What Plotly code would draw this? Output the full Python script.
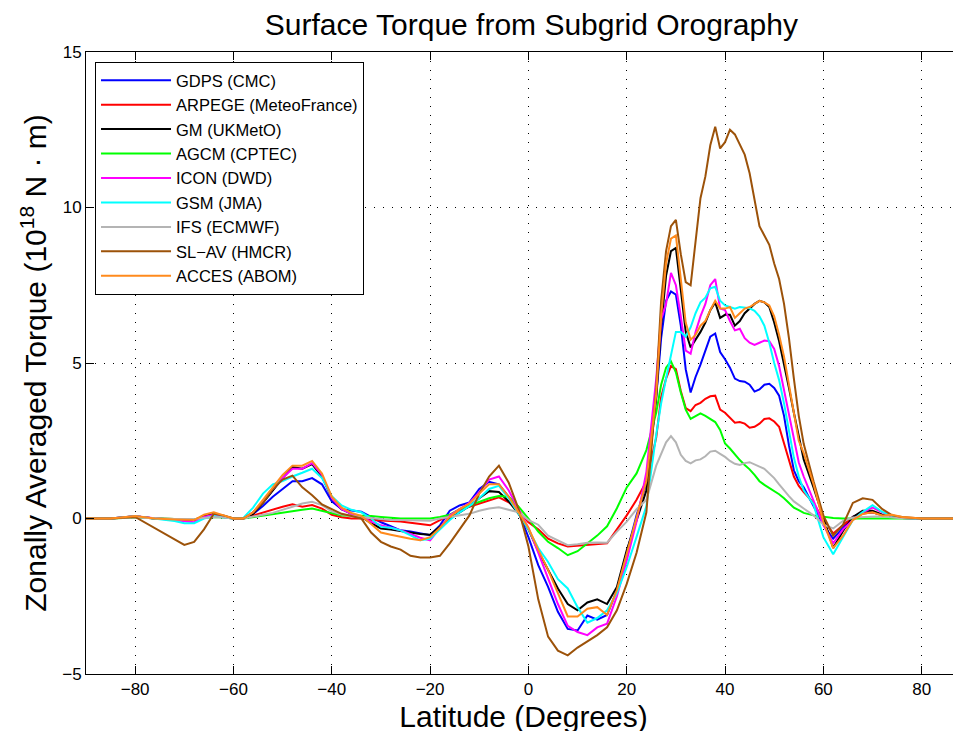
import plotly.graph_objects as go

# Latitude grid (degrees)
lat = [-90, -85, -80, -76, -72, -70, -68, -66, -64, -62,
       -60, -58, -56, -54, -52, -50, -48, -46, -44, -42,
       -40, -38, -36, -34, -32, -30, -28, -26, -24, -22,
       -20, -18, -16, -14, -12, -10, -8, -6, -4, -2,
       0, 2, 4, 6, 8, 10, 12, 14, 16, 18,
       20, 22, 24, 26, 27, 28, 29, 30, 31, 32,
       33, 34, 35, 36, 37, 38, 39, 40, 41, 42,
       43, 44, 45, 46, 47, 48, 49, 50, 51, 52,
       53, 54, 55, 56, 58, 60, 62, 64, 66, 68,
       70, 72, 74, 76, 80, 85, 90]

# Zonally averaged torque, 10^18 N m
gdps = [0, 0, 0.07, 0, -0.03, -0.05, -0.05, 0.05, 0.12, 0.05,
        0, 0, 0.15, 0.4, 0.7, 0.95, 1.2, 1.2, 1.3, 1.1,
        0.55, 0.3, 0.27, 0.22, 0.05, -0.12, -0.25, -0.38, -0.42, -0.47,
        -0.54, -0.22, 0.25, 0.42, 0.52, 0.95, 1.18, 1.1, 0.7, 0.2,
        -0.6, -1.5, -2.2, -3.0, -3.55, -3.6, -3.12, -3.25, -3.1, -2.31,
        -1.13, 0.1, 1.13, 3.9, 5.8, 7.0, 7.3, 7.2, 6.2, 4.8,
        4.05, 4.55, 4.95, 5.4, 5.85, 5.95, 5.35, 5.12, 4.85, 4.5,
        4.42, 4.4, 4.3, 4.08, 4.15, 4.3, 4.33, 4.2, 3.95, 3.3,
        2.35, 1.55, 1.2, 1.0, 0.4, -0.2, -0.65, -0.3, 0.05, 0.18,
        0.2, 0.1, 0.05, 0.02, 0, 0, 0]

arpege = [0, 0, 0.05, 0, -0.02, -0.03, -0.03, 0.05, 0.1, 0.05,
          0, 0, 0.1, 0.18, 0.28, 0.38, 0.46, 0.38, 0.43, 0.32,
          0.12, 0.04, 0.0, 0.0, -0.05, -0.06, -0.08, -0.1, -0.14, -0.17,
          -0.22, -0.05, 0.12, 0.28, 0.38, 0.48, 0.6, 0.68, 0.52, 0.25,
          -0.12, -0.35, -0.65, -0.8, -0.9, -0.88, -0.85, -0.82, -0.8, -0.35,
          0.1, 0.6, 1.2, 2.6, 3.9, 4.5, 4.9, 4.8, 4.1, 3.55,
          3.45, 3.65, 3.72, 3.85, 3.93, 3.95, 3.5, 3.4, 3.25, 3.08,
          3.1, 3.05, 2.92, 2.95, 3.05, 3.2, 3.22, 3.12, 2.95, 2.4,
          1.85, 1.35, 1.05, 0.85, 0.5, -0.05, -0.48, -0.2, 0.05, 0.15,
          0.2, 0.1, 0.05, 0.02, 0, 0, 0]

gm = [0, 0, 0.07, 0, -0.03, -0.05, -0.05, 0.08, 0.15, 0.08,
      0, 0, 0.15, 0.5, 0.9, 1.3, 1.65, 1.6, 1.75, 1.35,
      0.65, 0.3, 0.15, 0.05, -0.15, -0.32, -0.35, -0.4, -0.45, -0.5,
      -0.52, -0.25, 0.0, 0.2, 0.4, 0.65, 0.88, 0.85, 0.55, 0.15,
      -0.35, -1.05, -1.65, -2.25, -2.75, -2.95, -2.7, -2.6, -2.75, -2.2,
      -1.02, -0.05, 0.9, 3.9, 6.2, 7.8, 8.6, 8.7, 7.3, 6.0,
      5.5, 5.75, 6.0, 6.3, 6.7, 6.95, 6.45, 6.55, 6.55, 6.2,
      6.35, 6.6, 6.75, 6.9, 7.0, 6.95, 6.8, 6.3, 5.7, 5.0,
      4.2, 3.4, 2.6, 1.9, 1.0, 0.0, -0.95, -0.4, 0.05, 0.25,
      0.25, 0.12, 0.05, 0.02, 0, 0, 0]

agcm = [0, 0, 0.03, 0, -0.02, -0.02, -0.02, 0.02, 0.05, 0.03,
        0, 0, 0.05, 0.08, 0.13, 0.18, 0.23, 0.28, 0.32, 0.25,
        0.16, 0.1, 0.1, 0.1, 0.08, 0.05, 0.02, 0.0, 0.0, 0.0,
        0.0, 0.05, 0.12, 0.3, 0.42, 0.55, 0.65, 0.72, 0.7, 0.38,
        0.0, -0.42, -0.75, -0.95, -1.18, -1.05, -0.8, -0.55, -0.25, 0.33,
        1.0, 1.45, 2.2, 3.4, 4.3, 4.85, 5.05, 4.7, 4.05, 3.5,
        3.2, 3.3, 3.38, 3.3, 3.2, 3.1, 2.85, 2.41, 2.25, 2.05,
        1.88, 1.72, 1.58, 1.4, 1.2, 1.08, 0.98, 0.9, 0.78, 0.65,
        0.5, 0.35, 0.27, 0.18, 0.1, 0.05, 0.02, 0.0, 0.0, 0.0,
        0.0, 0.0, 0, 0, 0, 0, 0]

icon = [0, 0, 0.07, 0, -0.05, -0.1, -0.12, 0.05, 0.12, 0.05,
        0, 0, 0.2, 0.55, 0.95, 1.3, 1.6, 1.6, 1.78, 1.4,
        0.65, 0.3, 0.15, 0.05, -0.1, -0.22, -0.3, -0.38, -0.5, -0.62,
        -0.7, -0.3, 0.1, 0.3, 0.5, 0.85, 1.25, 1.35, 0.9, 0.3,
        -0.3, -1.1, -1.9, -2.75, -3.45, -3.65, -3.75, -3.5, -3.38, -2.5,
        -1.35, -0.1, 1.5, 4.5, 6.4, 6.9, 7.9, 7.5, 6.5, 5.4,
        5.3, 6.0, 6.5, 6.9, 7.5, 7.7, 6.75, 6.7, 6.35, 6.05,
        6.1, 5.8, 5.65, 5.58, 5.65, 5.72, 5.7, 5.45, 4.9, 4.1,
        3.3, 2.5, 1.8, 1.35, 0.55, -0.2, -0.8, -0.35, -0.05, 0.2,
        0.35, 0.2, 0.08, 0.02, 0, 0, 0]

gsm = [0, 0, 0.07, 0, -0.08, -0.15, -0.15, 0.0, 0.08, 0.03,
       0, 0.02, 0.35, 0.8, 1.1, 1.2, 1.35, 1.47, 1.6, 1.3,
       0.72, 0.42, 0.28, 0.2, 0.0, -0.27, -0.3, -0.38, -0.55, -0.7,
       -0.65, -0.35, -0.05, 0.2, 0.4, 0.65, 0.95, 1.05, 0.65, 0.15,
       -0.35, -0.95, -1.4, -1.95, -2.25, -2.85, -3.35, -3.2, -2.95, -2.4,
       -1.56, -0.59, 0.4, 2.7, 3.7, 4.5, 5.3, 6.0, 6.0, 5.85,
       6.15, 6.6, 6.95, 7.1, 7.4, 7.45, 7.0, 6.85, 6.8, 6.75,
       6.8, 6.78, 6.76, 6.68, 6.5, 6.2, 5.65, 5.0, 4.45, 3.7,
       2.8, 1.95, 1.35, 0.91, 0.45, -0.6, -1.15, -0.6, -0.05, 0.21,
       0.43, 0.21, 0.08, 0.02, 0, 0, 0]

ifs = [0, 0, 0.03, 0, -0.02, -0.02, -0.02, 0.02, 0.05, 0.03,
       0, 0, 0.07, 0.12, 0.18, 0.27, 0.38, 0.48, 0.54, 0.43,
       0.23, 0.13, 0.08, 0.05, 0.02, -0.02, -0.05, -0.05, -0.05, -0.06,
       -0.07, 0.0, 0.05, 0.08, 0.15, 0.25, 0.32, 0.36, 0.27, 0.2,
       -0.05, -0.2, -0.55, -0.7, -0.86, -0.83, -0.78, -0.77, -0.78, -0.42,
       -0.1, 0.3, 0.6, 1.7, 2.1, 2.45, 2.65, 2.45, 2.05, 1.85,
       1.77, 1.87, 1.9, 2.0, 2.15, 2.18, 2.08, 1.98, 1.85, 1.76,
       1.72, 1.78, 1.81, 1.75, 1.67, 1.6, 1.45, 1.3, 1.1, 0.9,
       0.72, 0.55, 0.43, 0.32, 0.1, -0.2, -0.32, -0.08, 0.03, 0.05,
       0.07, 0.07, 0.03, 0.01, 0, 0, 0]

slav = [0, 0, 0.05, -0.3, -0.65, -0.85, -0.75, -0.35, 0.15, 0.1,
        0, 0, 0.2, 0.5, 0.95, 1.25, 1.38, 1.0, 0.75, 0.45,
        0.3, 0.15, 0.08, 0.0, -0.45, -0.75, -0.9, -1.0, -1.2, -1.25,
        -1.25, -1.2, -0.8, -0.35, 0.1, 0.8, 1.35, 1.7, 1.15, 0.3,
        -0.9, -2.6, -3.8, -4.25, -4.4, -4.15, -3.95, -3.75, -3.5, -2.95,
        -2.1, -1.1, 0.2, 4.2, 7.0, 8.6, 9.4, 9.6, 8.5, 7.6,
        7.5, 8.9, 10.3, 11.0, 12.0, 12.6, 11.9, 12.1, 12.5, 12.35,
        12.05, 11.7, 11.1, 10.2, 9.4, 9.1, 8.8, 8.2, 7.7, 6.9,
        5.8, 4.5, 3.3, 2.4, 1.2, 0.1, -0.55, -0.2, 0.5, 0.65,
        0.6, 0.3, 0.1, 0.05, 0, 0, 0]

acces = [0, 0, 0.08, 0.0, -0.03, -0.05, -0.05, 0.12, 0.2, 0.1,
         0, 0, 0.2, 0.6, 1.0, 1.4, 1.7, 1.7, 1.85, 1.45,
         0.7, 0.35, 0.18, 0.08, -0.18, -0.45, -0.52, -0.59, -0.65, -0.7,
         -0.6, -0.3, 0.05, 0.3, 0.48, 0.8, 1.1, 1.1, 0.7, 0.2,
         -0.3, -1.0, -1.65, -2.4, -3.15, -3.15, -2.9, -2.85, -3.1, -2.3,
         -1.13, -0.05, 1.2, 4.0, 6.5, 8.2, 9.0, 9.1, 7.8, 6.3,
         5.75, 5.9, 6.2, 6.35, 6.7, 7.0, 6.75, 6.75, 6.8, 6.45,
         6.6, 6.75, 6.8, 6.9, 7.0, 6.95, 6.85, 6.5, 5.9, 5.2,
         4.3, 3.4, 2.5, 2.1, 1.1, -0.1, -0.95, -0.55, -0.05, 0.15,
         0.2, 0.1, 0.12, 0.05, 0, 0, 0]

series = [
    ("GDPS (CMC)", gdps, "#0000FF"),
    ("ARPEGE (MeteoFrance)", arpege, "#FF0000"),
    ("GM (UKMetO)", gm, "#000000"),
    ("AGCM (CPTEC)", agcm, "#00FF00"),
    ("ICON (DWD)", icon, "#FF00FF"),
    ("GSM (JMA)", gsm, "#00FFFF"),
    ("IFS (ECMWF)", ifs, "#B4B4B4"),
    ("SL\u2212AV (HMCR)", slav, "#9C5209"),
    ("ACCES (ABOM)", acces, "#FF8A1C"),
]

font_family = "Liberation Sans, Arial, Helvetica, sans-serif"

fig = go.Figure()
for name, vals, color in series:
    fig.add_trace(go.Scatter(
        x=lat, y=vals, mode="lines", name=name,
        line=dict(color=color, width=2),
    ))

axis_common = dict(
    showline=True, linecolor="black", linewidth=1,
    ticks="inside", ticklen=8, tickcolor="black",
    showgrid=True, gridcolor="black", gridwidth=1, griddash="1px,8px",
    zeroline=False, automargin=False,
    tickfont=dict(size=17, color="black", family=font_family),
)

fig.update_xaxes(
    range=[-90, 88], tickvals=[-80, -60, -40, -20, 0, 20, 40, 60, 80],
    mirror="ticks",
    title=dict(text="Latitude (Degrees)", font=dict(size=30, color="black", family=font_family), standoff=7),
    **axis_common,
)
fig.update_yaxes(
    range=[-5, 15], tickvals=[-5, 0, 5, 10, 15],
    title=dict(text="Zonally Averaged Torque (10<sup>18</sup> N \u00b7 m)",
               font=dict(size=30, color="black", family=font_family), standoff=6),
    **axis_common,
)

# the page body adds an 8 px offset, so margins are shifted accordingly
fig.update_layout(
    width=961, height=731,
    margin=dict(l=78, r=8, t=44, b=65),
    plot_bgcolor="white", paper_bgcolor="white",
    font=dict(family=font_family, color="black"),
    title=dict(text="Surface Torque from Subgrid Orography", x=0.509, xref="paper",
               xanchor="center", y=0.977, yanchor="middle",
               font=dict(size=30, color="black", family=font_family)),
    showlegend=True,
    legend=dict(
        x=0.0103, y=0.984, xanchor="left", yanchor="top",
        bgcolor="white", bordercolor="black", borderwidth=1,
        font=dict(size=16.5, color="black", family=font_family),
        itemwidth=70, tracegroupgap=0,
    ),
)

fig.write_html("out.html")
